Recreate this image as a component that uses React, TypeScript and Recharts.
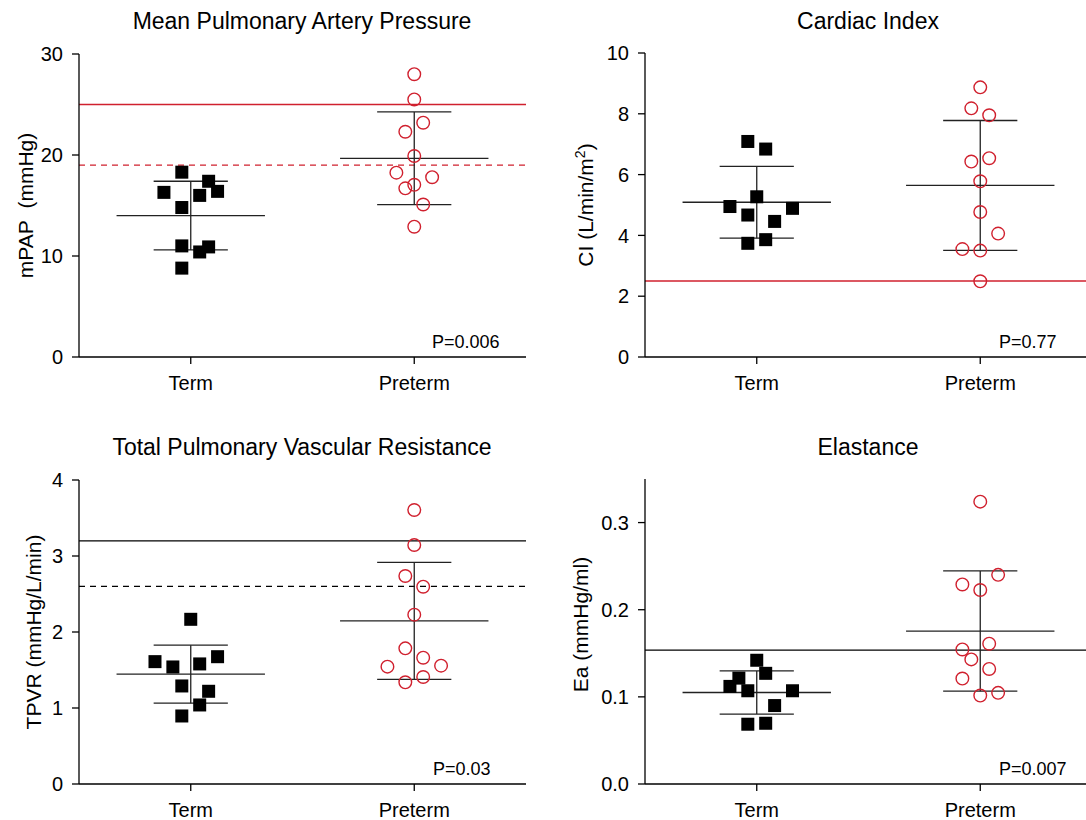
import React from 'react';
import {
  ScatterChart, Scatter, XAxis, YAxis, ReferenceLine,
} from 'recharts';

const FONT = '"Liberation Sans", Arial, Helvetica, sans-serif';
const RED = '#d0202e';
const LINE = '#222';

const groups = ['Term', 'Preterm'];
const groupX = [0.5, 1.5];
const JIT = 0.04; // horizontal spread step of the dot plot
const MEAN_HALF = 0.332;
const CAP_HALF = 0.166;

// mPAP (mmHg)
const mpapTerm = [18.3, 17.4, 16.3, 16.0, 16.4, 14.8, 11.0, 10.9, 10.4, 8.8];
const mpapTermJit = [-1, 2, -3, 1, 3, -1, -1, 2, 1, -1];
const mpapPre = [28.0, 25.5, 23.2, 22.3, 19.9, 18.25, 17.8, 17.05, 16.7, 15.1, 12.9];
const mpapPreJit = [0, 0, 1, -1, 0, -2, 2, 0, -1, 1, 0];
const mpapMean = [14.0, 19.67];
const mpapSd = [3.4, 4.59];

// Cardiac index (L/min/m2)
const ciTerm = [7.09, 6.84, 5.27, 4.95, 4.89, 4.67, 4.46, 3.86, 3.74];
const ciTermJit = [-1, 1, 0, -3, 4, -1, 2, 1, -1];
const ciPre = [8.87, 8.18, 7.95, 6.43, 6.54, 5.78, 4.77, 4.06, 3.55, 3.5, 2.49];
const ciPreJit = [0, -1, 1, -1, 1, 0, 0, 2, -2, 0, 0];
const ciMean = [5.09, 5.645];
const ciSd = [1.18, 2.135];

// TPVR (mmHg/L/min)
const tpvrTerm = [2.167, 1.61, 1.54, 1.58, 1.675, 1.29, 1.22, 1.04, 0.895];
const tpvrTermJit = [0, -4, -2, 1, 3, -1, 2, 1, -1];
const tpvrPre = [3.605, 3.145, 2.737, 2.596, 2.228, 1.785, 1.662, 1.544, 1.557, 1.408, 1.338];
const tpvrPreJit = [0, 0, -1, 1, 0, -1, 1, -3, 3, 1, -1];
const tpvrMean = [1.445, 2.146];
const tpvrSd = [0.382, 0.77];

// Ea (mmHg/ml)
const eaTerm = [0.142, 0.1215, 0.127, 0.112, 0.107, 0.107, 0.09, 0.0686, 0.0697];
const eaTermJit = [0, -2, 1, -3, -1, 4, 2, -1, 1];
const eaPre = [0.324, 0.24, 0.229, 0.2226, 0.161, 0.1544, 0.143, 0.132, 0.121, 0.1015, 0.1046];
const eaPreJit = [0, 2, -2, 0, 1, -2, -1, 1, -2, 0, 2];
const eaMean = [0.105, 0.1755];
const eaSd = [0.0248, 0.069];

type RefLine = { y: number; color: string; dashed?: boolean };

const toPoints = (vals: number[], jit: number[], g: number) =>
  vals.map((v, i) => ({ x: groupX[g] + jit[i] * JIT, y: v }));

const squareShape = (p: any) => (
  <rect x={p.cx - 6.5} y={p.cy - 6.5} width={13} height={13} fill="#000" />
);
const circleShape = (p: any) => (
  <circle cx={p.cx} cy={p.cy} r={6.3} fill="none" stroke={RED} strokeWidth={1.4} />
);

function Panel(props: {
  left: number; top: number; margin: { top: number; right: number; left: number; bottom: number };
  domain: [number, number]; ticks: number[]; fmt: (v: number) => string;
  label: React.ReactNode; labelX: number; labelDy?: number;
  term: number[]; termJit: number[]; pre: number[]; preJit: number[];
  mean: number[]; sd: number[]; refs: RefLine[];
}) {
  const termPts = toPoints(props.term, props.termJit, 0);
  const prePts = toPoints(props.pre, props.preJit, 1);
  const tick = { fontSize: 20, fill: '#000', fontFamily: FONT };
  return (
    <div style={{ position: 'absolute', left: props.left, top: props.top }}>
      <ScatterChart width={540} height={410} margin={props.margin}>
        <XAxis
          type="number" dataKey="x" domain={[0, 2]} ticks={groupX}
          tickFormatter={(v: number) => groups[groupX.indexOf(v)] ?? ''}
          tick={tick} tickSize={7} tickMargin={12} height={40}
          axisLine={{ stroke: '#000', strokeWidth: 1.3 }} tickLine={{ stroke: '#000', strokeWidth: 1.3 }}
          allowDataOverflow
        />
        <YAxis
          type="number" dataKey="y" domain={props.domain} ticks={props.ticks}
          tickFormatter={props.fmt} tick={tick} tickSize={7} tickMargin={9} width={60}
          axisLine={{ stroke: '#000', strokeWidth: 1.3 }} tickLine={{ stroke: '#000', strokeWidth: 1.3 }}
          allowDataOverflow
          label={{
            content: (lp: any) => {
              const vb = lp.viewBox || {};
              const cy = (vb.y ?? 0) + (vb.height ?? 0) / 2 + (props.labelDy ?? 0);
              return (
                <text x={props.labelX} y={cy} transform={`rotate(-90 ${props.labelX} ${cy})`}
                  textAnchor="middle" fontSize={21} fontFamily={FONT} fill="#000">
                  {props.label}
                </text>
              );
            },
          }}
        />
        {props.refs.map((r, i) => (
          <ReferenceLine key={'r' + i} y={r.y} stroke={r.color} strokeWidth={1.3}
            strokeDasharray={r.dashed ? '6 5' : undefined} />
        ))}
        {props.mean.map((m, g) => (
          <React.Fragment key={'g' + g}>
            <ReferenceLine segment={[{ x: groupX[g] - MEAN_HALF, y: m }, { x: groupX[g] + MEAN_HALF, y: m }]}
              stroke={LINE} strokeWidth={1.3} />
            <ReferenceLine segment={[{ x: groupX[g], y: m - props.sd[g] }, { x: groupX[g], y: m + props.sd[g] }]}
              stroke={LINE} strokeWidth={1.3} />
            <ReferenceLine segment={[{ x: groupX[g] - CAP_HALF, y: m + props.sd[g] }, { x: groupX[g] + CAP_HALF, y: m + props.sd[g] }]}
              stroke={LINE} strokeWidth={1.3} />
            <ReferenceLine segment={[{ x: groupX[g] - CAP_HALF, y: m - props.sd[g] }, { x: groupX[g] + CAP_HALF, y: m - props.sd[g] }]}
              stroke={LINE} strokeWidth={1.3} />
          </React.Fragment>
        ))}
        <Scatter name="Term" data={termPts} shape={squareShape} isAnimationActive={false} />
        <Scatter name="Preterm" data={prePts} shape={circleShape} isAnimationActive={false} />
      </ScatterChart>
    </div>
  );
}

const int = (v: number) => String(v);
const dec = (v: number) => v.toFixed(1);

export default function App() {
  const txt = { fontFamily: FONT, fill: '#000' };
  return (
    <div style={{ position: 'absolute', left: 0, top: 0, width: 1086, height: 820, overflow: 'hidden', background: '#fff' }}>
      <Panel
        left={0} top={0} margin={{ top: 54, right: 14, left: 19, bottom: 13 }}
        domain={[0, 30]} ticks={[0, 10, 20, 30]} fmt={int}
        label={'mPAP\u00a0 (mmHg)'} labelX={33}
        term={mpapTerm} termJit={mpapTermJit} pre={mpapPre} preJit={mpapPreJit}
        mean={mpapMean} sd={mpapSd}
        refs={[{ y: 25, color: RED }, { y: 19, color: RED, dashed: true }]}
      />
      <Panel
        left={560} top={0} margin={{ top: 53, right: 8, left: 25, bottom: 13 }}
        domain={[0, 10]} ticks={[0, 2, 4, 6, 8, 10]} fmt={int}
        label={<>CI (L/min/m<tspan fontSize={14} dy={-8}>2</tspan><tspan dy={8}>)</tspan></>} labelX={33}
        term={ciTerm} termJit={ciTermJit} pre={ciPre} preJit={ciPreJit}
        mean={ciMean} sd={ciSd}
        refs={[{ y: 2.5, color: RED }]}
      />
      <Panel
        left={0} top={430} margin={{ top: 50, right: 14, left: 19, bottom: 16 }}
        domain={[0, 4]} ticks={[0, 1, 2, 3, 4]} fmt={int}
        label="TPVR (mmHg/L/min)" labelX={41}
        term={tpvrTerm} termJit={tpvrTermJit} pre={tpvrPre} preJit={tpvrPreJit}
        mean={tpvrMean} sd={tpvrSd}
        refs={[{ y: 3.2, color: '#000' }, { y: 2.6, color: '#000', dashed: true }]}
      />
      <Panel
        left={560} top={430} margin={{ top: 49, right: 8, left: 25, bottom: 16 }}
        domain={[0, 0.35]} ticks={[0, 0.1, 0.2, 0.3]} fmt={dec}
        label="Ea (mmHg/ml)" labelX={28} labelDy={-7}
        term={eaTerm} termJit={eaTermJit} pre={eaPre} preJit={eaPreJit}
        mean={eaMean} sd={eaSd}
        refs={[{ y: 0.1536, color: '#000' }]}
      />
      <svg width={1086} height={820} style={{ position: 'absolute', left: 0, top: 0, pointerEvents: 'none' }}>
        <text x={302} y={29} textAnchor="middle" fontSize={23} {...txt}>Mean Pulmonary Artery Pressure</text>
        <text x={868} y={29} textAnchor="middle" fontSize={23} {...txt}>Cardiac Index</text>
        <text x={302} y={455} textAnchor="middle" fontSize={23} {...txt}>Total Pulmonary Vascular Resistance</text>
        <text x={868} y={455} textAnchor="middle" fontSize={23} {...txt}>Elastance</text>
        <text x={432} y={348} fontSize={18} {...txt}>P=0.006</text>
        <text x={999} y={348} fontSize={18} {...txt}>P=0.77</text>
        <text x={433} y={775} fontSize={18} {...txt}>P=0.03</text>
        <text x={999} y={775} fontSize={18} {...txt}>P=0.007</text>
      </svg>
    </div>
  );
}
